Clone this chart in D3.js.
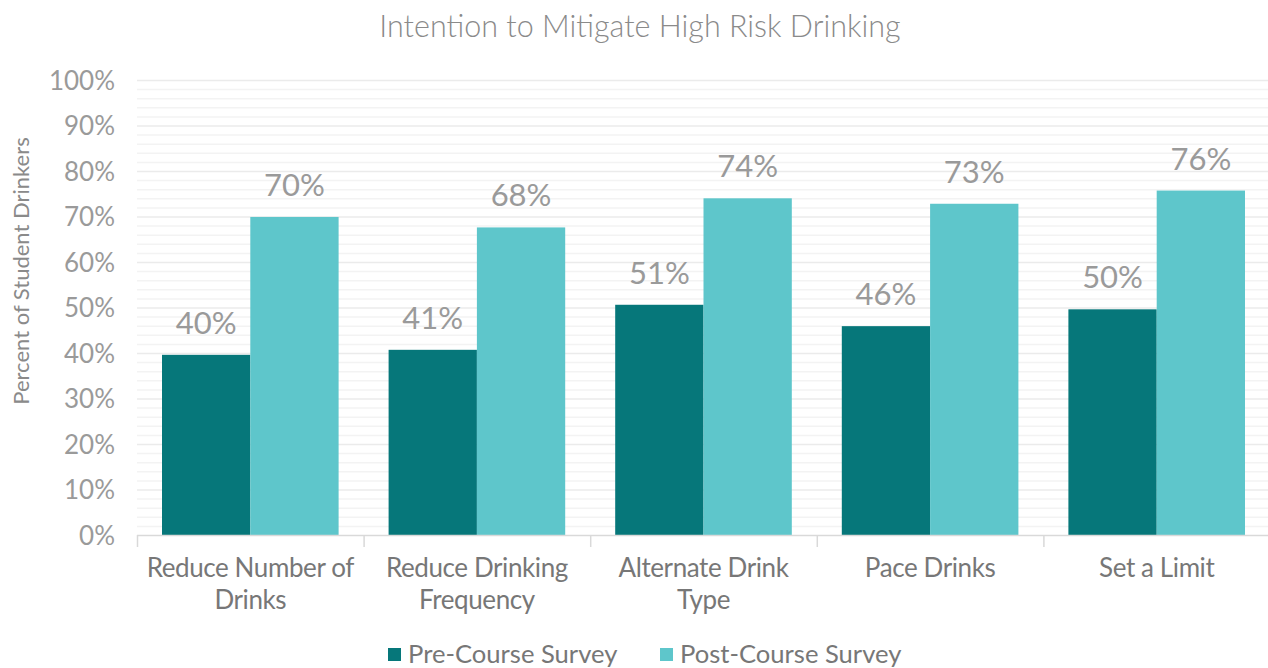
<!DOCTYPE html>
<html>
<head>
<meta charset="utf-8">
<script src="https://cdn.jsdelivr.net/npm/d3@7"></script>
<style>
  body { margin: 0; background: #fff; }
  svg text { font-family: Lato, "Open Sans", sans-serif; }
</style>
</head>
<body>
<svg id="chart" width="1268" height="668"></svg>
<script>
// chart data
var categories = [
  ["Reduce Number of", "Drinks"],
  ["Reduce Drinking", "Frequency"],
  ["Alternate Drink", "Type"],
  ["Pace Drinks"],
  ["Set a Limit"]
];
var seriesNames = ["Pre-Course Survey", "Post-Course Survey"];
var preValues  = [39.6, 40.7, 50.6, 45.9, 49.6];
var postValues = [69.9, 67.6, 74.0, 72.8, 75.7];
var yTicks = [0, 10, 20, 30, 40, 50, 60, 70, 80, 90, 100];

var colors = ["#06777a", "#5ec6cb"];

var svg = d3.select("#chart"),
    width = +svg.attr("width"),
    height = +svg.attr("height");

// plot box (note: "top" is taken by window.top)
var plotL = 137, plotR = 1270, plotT = 80, plotB = 535;

var x0 = d3.scaleBand()
    .domain(d3.range(categories.length))
    .range([plotL, plotR])
    .padding(0);

var x1 = d3.scaleBand()
    .domain([0, 1])
    .range([25, x0.bandwidth() - 25])
    .padding(0);

var y = d3.scaleLinear()
    .domain([0, 100])
    .range([plotB, plotT]);

// minor grid (every 2%)
svg.append("g")
  .selectAll("line")
  .data(d3.range(2, 101, 2).filter(function (d) { return d % 10 != 0; }))
  .enter().append("line")
    .attr("x1", plotL).attr("x2", plotR)
    .attr("y1", function (d) { return y(d) + 0.5; })
    .attr("y2", function (d) { return y(d) + 0.5; })
    .attr("stroke", "#f3f3f3")
    .attr("stroke-width", 1.5);

// major grid
svg.append("g")
  .selectAll("line")
  .data(yTicks.slice(1))
  .enter().append("line")
    .attr("x1", plotL).attr("x2", plotR)
    .attr("y1", function (d) { return y(d) + 0.5; })
    .attr("y2", function (d) { return y(d) + 0.5; })
    .attr("stroke", "#ebebeb")
    .attr("stroke-width", 1.5);

// y tick labels
svg.append("g")
  .selectAll("text")
  .data(yTicks)
  .enter().append("text")
    .attr("x", 115)
    .attr("y", function (d) { return y(d) + 9.5; })
    .attr("text-anchor", "end")
    .attr("font-size", 26)
    .attr("fill", "#9a9a9a")
    .text(function (d) { return d + "%"; });

// bars
var data = categories.map(function (c, i) {
  return { i: i, vals: [preValues[i], postValues[i]] };
});

var groups = svg.append("g")
  .selectAll("g")
  .data(data)
  .enter().append("g")
    .attr("transform", function (d) { return "translate(" + x0(d.i) + ",0)"; });

groups.selectAll("rect")
  .data(function (d) { return d.vals.map(function (v, k) { return { k: k, v: v }; }); })
  .enter().append("rect")
    .attr("x", function (d) { return x1(d.k); })
    .attr("width", x1.bandwidth())
    .attr("y", function (d) { return y(d.v); })
    .attr("height", function (d) { return plotB - y(d.v); })
    .attr("fill", function (d) { return colors[d.k]; });

groups.selectAll("text.val")
  .data(function (d) { return d.vals.map(function (v, k) { return { k: k, v: v }; }); })
  .enter().append("text")
    .attr("class", "val")
    .attr("x", function (d) { return x1(d.k) + x1.bandwidth() / 2; })
    .attr("y", function (d) { return y(d.v) - 21; })
    .attr("text-anchor", "middle")
    .attr("font-size", 31)
    .attr("fill", "#9a9a9a")
    .text(function (d) { return Math.round(d.v) + "%"; });

// x axis line and ticks
svg.append("line")
  .attr("x1", plotL).attr("x2", plotR)
  .attr("y1", plotB + 0.5).attr("y2", plotB + 0.5)
  .attr("stroke", "#d9d9d9").attr("stroke-width", 1.5);

svg.append("g")
  .selectAll("line")
  .data(d3.range(categories.length + 1))
  .enter().append("line")
    .attr("x1", function (d) { return d < categories.length ? x0(d) + 0.5 : plotR; })
    .attr("x2", function (d) { return d < categories.length ? x0(d) + 0.5 : plotR; })
    .attr("y1", plotB).attr("y2", plotB + 12)
    .attr("stroke", "#d9d9d9").attr("stroke-width", 1.5);

// category labels
var catText = svg.append("g")
  .selectAll("text")
  .data(categories)
  .enter().append("text")
    .attr("x", function (d, i) { return x0(i) + x0.bandwidth() / 2; })
    .attr("y", 577)
    .attr("text-anchor", "middle")
    .attr("font-size", 26)
    .attr("letter-spacing", -0.4)
    .attr("fill", "#777");

catText.selectAll("tspan")
  .data(function (d) { return d; })
  .enter().append("tspan")
    .attr("x", function () { return this.parentNode.getAttribute("x"); })
    .attr("dy", function (d, j) { return j == 0 ? 0 : 32; })
    .text(function (d) { return d; });

// y axis title
svg.append("text")
  .attr("transform", "translate(29,271) rotate(-90)")
  .attr("text-anchor", "middle")
  .attr("font-size", 22)
  .attr("fill", "#8a8a8a")
  .text("Percent of Student Drinkers");

// title
svg.append("text")
  .attr("x", 640)
  .attr("y", 37)
  .attr("text-anchor", "middle")
  .attr("font-size", 30.5)
  .attr("font-weight", 300)
  .attr("fill", "#8a8a8a")
  .text("Intention to Mitigate High Risk Drinking");

// legend
var legendX = [388, 660];
var legend = svg.append("g")
  .selectAll("g")
  .data(seriesNames)
  .enter().append("g")
    .attr("transform", function (d, i) { return "translate(" + legendX[i] + ",648)"; });

legend.append("rect")
  .attr("width", 13).attr("height", 13)
  .attr("fill", function (d, i) { return colors[i]; });

legend.append("text")
  .attr("x", 20)
  .attr("y", 15)
  .attr("font-size", 25.6)
  .attr("fill", "#777")
  .text(function (d) { return d; });
</script>
</body>
</html>
